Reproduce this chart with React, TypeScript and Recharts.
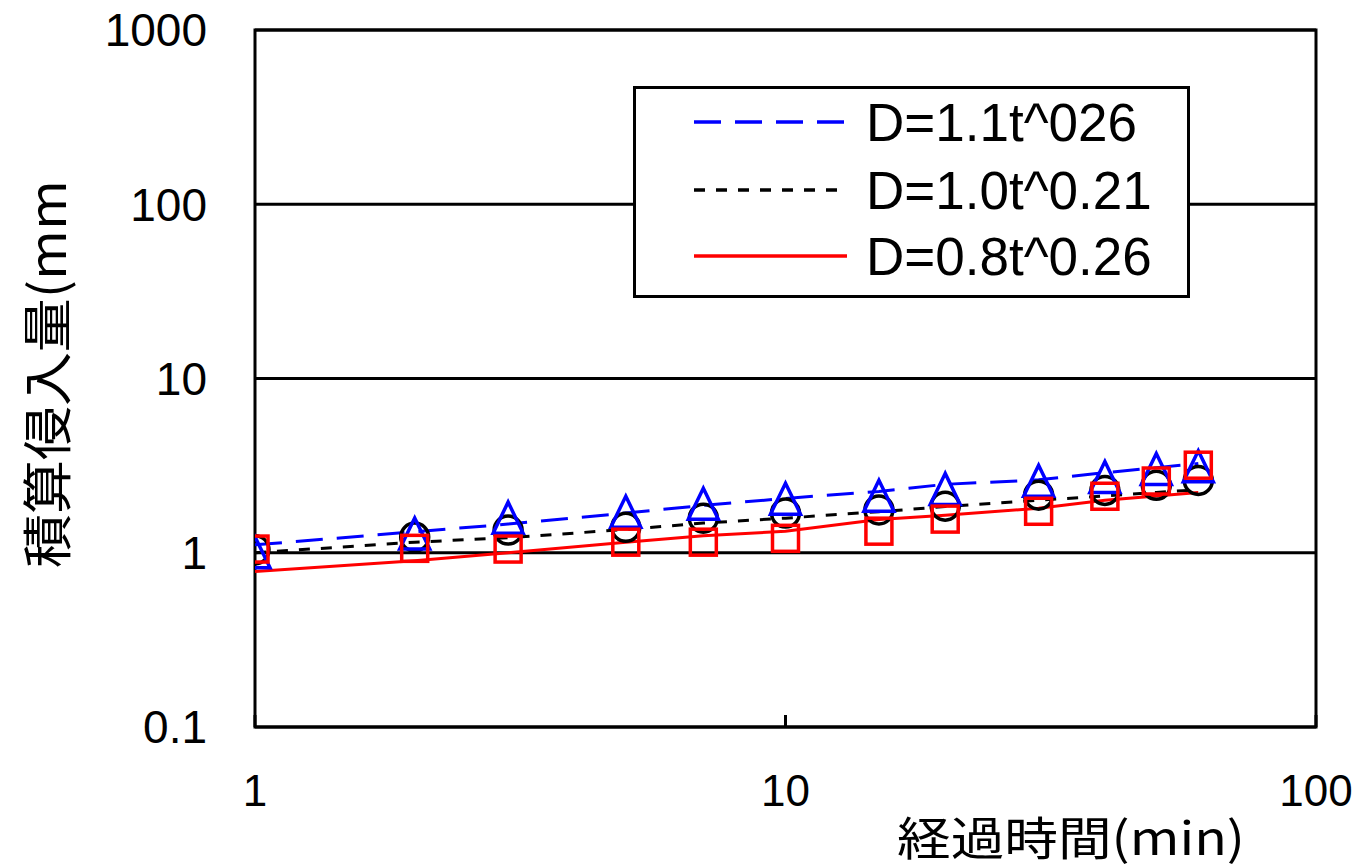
import React from "react";
import {
  ComposedChart,
  Line,
  Scatter,
  XAxis,
  YAxis,
  CartesianGrid,
  ReferenceArea,
  Legend,
} from "recharts";

// elapsed time (min)
const times = [1, 2, 3, 5, 7, 10, 15, 20, 30, 40, 50, 60];

// measured points
const triangleVals = [1.0, 1.28, 1.58, 1.71, 1.9, 2.03, 2.11, 2.31, 2.57, 2.7, 3.0, 3.12];
const circleVals = [1.04, 1.23, 1.35, 1.4, 1.58, 1.69, 1.76, 1.85, 2.14, 2.28, 2.44, 2.6];
const squareVals = [1.05, 1.06, 1.05, 1.15, 1.15, 1.21, 1.33, 1.56, 1.73, 2.11, 2.58, 3.18];

// fitted curves as drawn
const fitBlue = [1.11, 1.32, 1.46, 1.69, 1.87, 2.05, 2.25, 2.47, 2.62, 2.88, 3.08, 3.25];
const fitBlack = [1.0, 1.15, 1.22, 1.36, 1.48, 1.58, 1.72, 1.84, 2.0, 2.12, 2.22, 2.3];
const fitRed = [0.78, 0.9, 1.0, 1.15, 1.25, 1.33, 1.55, 1.64, 1.8, 2.0, 2.12, 2.22];

const xTicks = [1, 10, 100];
const yTicks = [0.1, 1, 10, 100, 1000];

const legendNames = ["D=1.1t^026", "D=1.0t^0.21", "D=0.8t^0.26"];
const legendColors = ["#0000ff", "#000000", "#ff0000"];
const legendDash = ["27 14", "11 11", undefined];

const toPts = (vals: number[]) => times.map((t, i) => ({ x: t, y: vals[i] }));

const FONT = "'Liberation Sans', Arial, sans-serif";
const CJK = "'Noto Sans CJK JP', sans-serif";

const XTick = (props: any) => {
  const { x, y, payload } = props;
  return (
    <g>
      <line x1={x} x2={x} y1={727} y2={715} stroke="#000" strokeWidth={3} />
      <text x={x} y={y} dy="0.71em" textAnchor="middle" fontSize={44} fontFamily={FONT} fill="#000">
        {payload.value}
      </text>
    </g>
  );
};

const YTick = (props: any) => {
  const { x, y, payload } = props;
  return (
    <text x={x} y={y} dy="0.355em" textAnchor="end" fontSize={46} fontFamily={FONT} fill="#000">
      {payload.value}
    </text>
  );
};

const Square = (p: any) => (
  <rect x={p.cx - 13} y={p.cy - 13} width={26} height={26} fill="none" stroke="#ff0000" strokeWidth={3.5} />
);
const Triangle = (p: any) => (
  <polygon
    points={`${p.cx},${p.cy - 16} ${p.cx - 15},${p.cy + 15} ${p.cx + 15},${p.cy + 15}`}
    fill="none"
    stroke="#0000ff"
    strokeWidth={3.5}
  />
);
const Circle = (p: any) => <circle cx={p.cx} cy={p.cy} r={14} fill="none" stroke="#000" strokeWidth={3.5} />;

const LegendBox = () => (
  <svg width={557} height={212} style={{ display: "block" }}>
    <rect x={1.5} y={1.5} width={554} height={209} fill="#fff" stroke="#000" strokeWidth={3} />
    {legendNames.map((n, i) => {
      const cy = [36, 104, 170][i];
      return (
        <g key={n}>
          <line x1={61} x2={214} y1={cy} y2={cy} stroke={legendColors[i]} strokeWidth={3.5} strokeDasharray={legendDash[i]} />
          <text x={233} y={cy} dy="0.36em" fontSize={53} fontFamily={FONT} fill="#000">
            {n}
          </text>
        </g>
      );
    })}
  </svg>
);

export default function App() {
  return (
    <div style={{ position: "absolute", left: 0, top: 0, width: 1360, height: 867, background: "#fff" }}>
      <ComposedChart width={1360} height={867} margin={{ top: 30, right: 44, bottom: 0, left: 0 }}>
        <CartesianGrid vertical={false} stroke="#000" strokeWidth={3} />
        <XAxis
          dataKey="x"
          type="number"
          scale="log"
          domain={[1, 100]}
          ticks={xTicks}
          allowDataOverflow
          height={140}
          axisLine={false}
          tickLine={false}
          tickSize={0}
          tickMargin={48}
          tick={<XTick />}
          label={() => (
            <text x={1071} y={835} textAnchor="middle" dominantBaseline="central" fontSize={46} fontFamily={CJK} fill="#000" textLength={348} lengthAdjust="spacingAndGlyphs">
              経過時間(min)
            </text>
          )}
        />
        <YAxis
          dataKey="y"
          type="number"
          scale="log"
          domain={[0.1, 1000]}
          ticks={yTicks}
          allowDataOverflow
          width={255}
          axisLine={false}
          tickLine={false}
          tickSize={0}
          tickMargin={48}
          tick={<YTick />}
          label={() => (
            <text x={44} y={374} transform="rotate(-90, 44, 374)" textAnchor="middle" dominantBaseline="central" fontSize={50} fontFamily={CJK} fill="#000" textLength={388} lengthAdjust="spacingAndGlyphs">
              積算侵入量(mm
            </text>
          )}
        />
        <ReferenceArea x1={1} x2={100} y1={0.1} y2={1000} fill="none" stroke="#000" strokeWidth={3} ifOverflow="visible" />
        <Line data={toPts(fitBlue)} dataKey="y" type="linear" stroke="#0000ff" strokeWidth={3} strokeDasharray="27 14" dot={false} isAnimationActive={false} name={legendNames[0]} />
        <Line data={toPts(fitBlack)} dataKey="y" type="linear" stroke="#000" strokeWidth={3} strokeDasharray="11 11" dot={false} isAnimationActive={false} name={legendNames[1]} />
        <Line data={toPts(fitRed)} dataKey="y" type="linear" stroke="#ff0000" strokeWidth={3} dot={false} isAnimationActive={false} name={legendNames[2]} />
        <Scatter data={toPts(circleVals)} dataKey="y" shape={Circle} isAnimationActive={false} />
        <Scatter data={toPts(triangleVals)} dataKey="y" shape={Triangle} isAnimationActive={false} />
        <Scatter data={toPts(squareVals)} dataKey="y" shape={Square} isAnimationActive={false} />
        <Legend
          layout="vertical"
          align="center"
          verticalAlign="middle"
          content={() => <LegendBox />}
          wrapperStyle={{ position: "absolute", left: 633, top: 86, width: 557, height: 212 }}
        />
      </ComposedChart>
    </div>
  );
}
